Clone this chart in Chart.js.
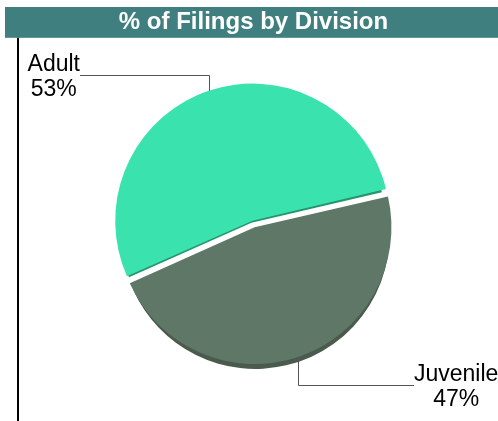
<!DOCTYPE html>
<html>
<head>
<meta charset="utf-8">
<script src="https://cdn.jsdelivr.net/npm/chart.js@4.4.0/dist/chart.umd.min.js"></script>
<style>
  html, body { margin: 0; padding: 0; background: #fff; }
  #wrap { width: 498px; height: 421px; }
</style>
</head>
<body>
<div id="wrap"><canvas id="pie-chart"></canvas></div>
<script>
const divisions = ["Adult", "Juvenile"];
const filings = [53, 47];

const topColors = ["#3ae3ae", "#5f7767"];
const sideColors = ["#24956c", "#4a5b4e"];
const depth = 5;
// leader elbow offsets from the slice edge (x run, y rise)
const leaders = [{dx: -129, dy: -16}, {dx: 116, dy: 28}];
const labelFont = "23px 'Liberation Sans', Arial, sans-serif";

// same shift that ArcElement.draw applies for the offset option
function arcCenter(arc) {
    const off = (arc.options.offset || 0) / 4;
    const fix = 1 - Math.sin(Math.min(Math.PI, arc.circumference || 0));
    const mid = (arc.startAngle + arc.endAngle) / 2;
    const t = off + off * fix;
    return {x: arc.x + Math.cos(mid) * t, y: arc.y + Math.sin(mid) * t, mid: mid};
}

const decor = {
    id: "decor",
    beforeDraw(chart) {
        const ctx = chart.ctx;
        const tb = chart.titleBlock;
        ctx.save();
        ctx.fillStyle = "#407f7f";
        ctx.fillRect(5, tb.top, chart.width - 5, tb.height);
        ctx.fillStyle = "#000";
        ctx.fillRect(17, tb.bottom, 2, chart.height - tb.bottom);
        ctx.restore();
    },
    beforeDatasetsDraw(chart) {
        const ctx = chart.ctx;
        const arcs = chart.getDatasetMeta(0).data;
        ctx.save();
        arcs.forEach(function(arc, i) {
            const c = arcCenter(arc);
            ctx.beginPath();
            ctx.moveTo(c.x, c.y + depth);
            ctx.arc(c.x, c.y + depth, arc.outerRadius, arc.startAngle, arc.endAngle);
            ctx.closePath();
            ctx.fillStyle = sideColors[i];
            ctx.fill();
        });
        ctx.restore();
    },
    afterDatasetsDraw(chart) {
        const ctx = chart.ctx;
        const arcs = chart.getDatasetMeta(0).data;
        const total = filings.reduce(function(a, b) { return a + b; }, 0);
        ctx.save();
        ctx.font = labelFont;
        arcs.forEach(function(arc, i) {
            const c = arcCenter(arc);
            const px = c.x + Math.cos(c.mid) * arc.outerRadius;
            const py = c.y + Math.sin(c.mid) * arc.outerRadius;
            const ex = Math.round(px + leaders[i].dx);
            const ey = Math.round(py + leaders[i].dy);
            const sx = Math.round(px);
            ctx.strokeStyle = "#555";
            ctx.lineWidth = 1;
            ctx.beginPath();
            ctx.moveTo(sx + 0.5, py);
            ctx.lineTo(sx + 0.5, ey + 0.5);
            ctx.lineTo(ex, ey + 0.5);
            ctx.stroke();

            const lines = [divisions[i], Math.round(filings[i] / total * 100) + "%"];
            const w = Math.max(ctx.measureText(lines[0]).width, ctx.measureText(lines[1]).width);
            const cx = leaders[i].dx < 0 ? ex - w / 2 : ex + w / 2;
            ctx.fillStyle = "#000";
            ctx.textAlign = "center";
            ctx.textBaseline = "alphabetic";
            ctx.fillText(lines[0], cx, ey - 4);
            ctx.fillText(lines[1], cx, ey + 21);
        });
        ctx.restore();
    }
};

new Chart(document.getElementById("pie-chart"), {
    type: "pie",
    data: {
        labels: divisions,
        datasets: [{
            data: filings,
            backgroundColor: topColors,
            borderWidth: 0,
            offset: [13, 14]
        }]
    },
    options: {
        responsive: true,
        maintainAspectRatio: false,
        animation: false,
        events: [],
        rotation: 246,
        radius: 134,
        layout: { padding: { left: 9, right: 0, top: 7, bottom: 11 } },
        plugins: {
            legend: { display: false },
            tooltip: { enabled: false },
            title: {
                display: true,
                text: "% of Filings by Division",
                color: "#fff",
                font: { family: "'Liberation Sans', Arial, sans-serif", size: 24, weight: "bold" },
                padding: { top: 1, bottom: 1 }
            }
        }
    },
    plugins: [decor]
});
</script>
</body>
</html>
